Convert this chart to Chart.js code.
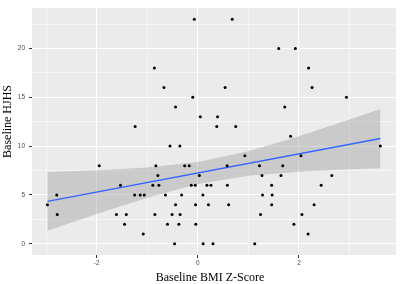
<!DOCTYPE html>
<html>
<head>
<meta charset="utf-8">
<script src="https://cdn.jsdelivr.net/npm/chart.js@4"></script>
<style>
  html, body { margin: 0; padding: 0; background: #fff; }
  #wrap { width: 400px; height: 284px; }
</style>
</head>
<body>
<div id="wrap"><canvas id="hjhsChart"></canvas></div>
<script>
// baseline BMI z-score (x) and baseline HJHS (y), one entry per child
const bmiZ = [
  -0.07, 0.68,
  1.60, 1.93,
  -0.86, 2.19,
  -0.67, 0.54, 2.26,
  -0.10, 2.94,
  -0.44, 1.72,
  0.05, 0.39,
  -1.24, 0.375, 0.75,
  1.835,
  -0.55, -0.355, 3.61,
  0.93, 2.04,
  -1.95, -0.83, -0.26, -0.17, 0.58, 1.22, 1.68,
  -0.79, 0.03, 1.27, 1.645, 2.65,
  -1.53, -0.89, -0.77, -0.13, -0.05, 0.18, 0.26, 0.585, 1.46, 2.44,
  -2.79, -1.25, -1.14, -1.06, -0.64, -0.32, 0.10, 1.28, 1.47,
  -2.975, -0.44, -0.045, 0.21, 0.61, 1.46, 2.30,
  -2.78, -1.61, -1.415, -0.85, -0.51, -0.35, 1.24, 2.06,
  -1.45, -0.60, -0.375, -0.04, 1.90,
  -1.08, 2.18,
  -0.46, 0.105, 0.30, 1.125
];
const hjhs = [
  23, 23,
  20, 20,
  18, 18,
  16, 16, 16,
  15, 15,
  14, 14,
  13, 13,
  12, 12, 12,
  11,
  10, 10, 10,
  9, 9,
  8, 8, 8, 8, 8, 8, 8,
  7, 7, 7, 7, 7,
  6, 6, 6, 6, 6, 6, 6, 6, 6, 6,
  5, 5, 5, 5, 5, 5, 5, 5, 5,
  4, 4, 4, 4, 4, 4, 4,
  3, 3, 3, 3, 3, 3, 3, 3,
  2, 2, 2, 2, 2,
  1, 1,
  0, 0, 0, 0
];

// linear fit and its confidence band
const fitX = [-2.975, 3.61];
const fitY = [4.34, 10.77];
const bandX = [-2.975, -2, -1, 0, 1, 2, 3, 3.61];
const bandUpper = [7.34, 7.54, 7.82, 8.37, 9.47, 11.01, 12.72, 13.79];
const bandLower = [1.34, 3.04, 4.70, 6.11, 6.97, 7.37, 7.62, 7.73];

// grid positions (major + minor) and which of them get a label
const xGrid = [-3, -2, -1, 0, 1, 2, 3];
const xLabels = [-2, 0, 2];
const yGrid = [0, 2.5, 5, 7.5, 10, 12.5, 15, 17.5, 20, 22.5];
const yLabels = [0, 5, 10, 15, 20];

const toPts = (xs, ys) => xs.map((x, i) => ({ x: x, y: ys[i] }));

const panelBg = {
  id: 'panelBg',
  beforeDraw(chart) {
    const { ctx, chartArea: a } = chart;
    ctx.save();
    ctx.fillStyle = '#ebebeb';
    ctx.fillRect(a.left, a.top, a.right - a.left, a.bottom - a.top);
    ctx.restore();
  }
};

const axisTitles = {
  id: 'axisTitles',
  afterDraw(chart) {
    const { ctx, chartArea: a } = chart;
    ctx.save();
    ctx.fillStyle = '#000';
    ctx.font = '12px "Liberation Serif", serif';
    ctx.textAlign = 'center';
    ctx.textBaseline = 'alphabetic';
    ctx.fillText('Baseline BMI Z-Score', (a.left + a.right) / 2 - 4, 281);
    ctx.translate(10.5, (a.top + a.bottom) / 2 - 10);
    ctx.rotate(-Math.PI / 2);
    ctx.fillText('Baseline HJHS', 0, 0);
    ctx.restore();
  }
};

const isMajor = (list) => (c) => c.tick && list.includes(c.tick.value);
const tickFont = { family: '"Liberation Sans", Arial, sans-serif', size: 6.5 };

new Chart(document.getElementById('hjhsChart'), {
  type: 'scatter',
  data: {
    datasets: [
      {
        data: toPts(bmiZ, hjhs),
        pointRadius: 1.5,
        pointBackgroundColor: '#000',
        pointBorderWidth: 0,
        order: 0
      },
      {
        type: 'line',
        data: toPts(fitX, fitY),
        borderColor: '#3366ff',
        borderWidth: 1.5,
        pointRadius: 0,
        fill: false,
        order: 1
      },
      {
        type: 'line',
        data: toPts(bandX, bandUpper),
        borderWidth: 0,
        borderColor: 'rgba(0,0,0,0)',
        backgroundColor: 'rgba(153,153,153,0.4)',
        pointRadius: 0,
        fill: '+1',
        order: 2
      },
      {
        type: 'line',
        data: toPts(bandX, bandLower),
        borderWidth: 0,
        borderColor: 'rgba(0,0,0,0)',
        pointRadius: 0,
        fill: false,
        order: 3
      }
    ]
  },
  options: {
    responsive: true,
    maintainAspectRatio: false,
    animation: false,
    layout: { padding: { top: 2, right: 3, left: 0, bottom: 0 } },
    plugins: {
      legend: { display: false },
      tooltip: { enabled: false }
    },
    scales: {
      x: {
        type: 'linear',
        min: -3.28,
        max: 3.92,
        afterBuildTicks: (s) => { s.ticks = xGrid.map(v => ({ value: v })); },
        afterFit: (s) => { s.height = 29; },
        border: { display: false },
        grid: {
          color: '#fff',
          lineWidth: (c) => isMajor(xLabels)(c) ? 1 : 0.5,
          tickLength: 3,
          tickWidth: 1,
          tickColor: (c) => isMajor(xLabels)(c) ? '#333' : 'rgba(0,0,0,0)'
        },
        ticks: {
          autoSkip: false,
          maxRotation: 0,
          padding: 1,
          color: '#4d4d4d',
          font: tickFont,
          callback: (v) => xLabels.includes(v) ? String(v) : ''
        }
      },
      y: {
        min: -1.15,
        max: 24.15,
        afterBuildTicks: (s) => { s.ticks = yGrid.map(v => ({ value: v })); },
        afterFit: (s) => { s.width = 32; },
        border: { display: false },
        grid: {
          color: '#fff',
          lineWidth: (c) => isMajor(yLabels)(c) ? 1 : 0.5,
          tickLength: 3,
          tickWidth: 1,
          tickColor: (c) => isMajor(yLabels)(c) ? '#333' : 'rgba(0,0,0,0)'
        },
        ticks: {
          autoSkip: false,
          padding: 4,
          color: '#4d4d4d',
          font: tickFont,
          callback: (v) => yLabels.includes(v) ? String(v) : ''
        }
      }
    }
  },
  plugins: [panelBg, axisTitles]
});
</script>
</body>
</html>
